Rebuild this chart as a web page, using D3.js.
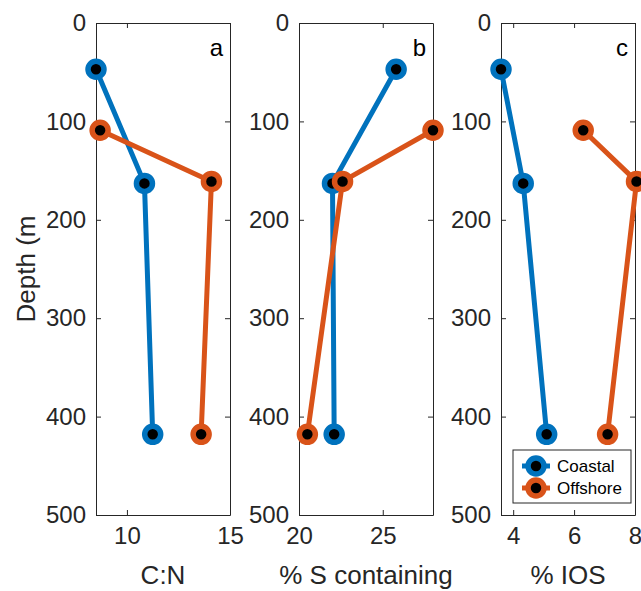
<!DOCTYPE html>
<html>
<head>
<meta charset="utf-8">
<script src="https://cdn.jsdelivr.net/npm/d3@7"></script>
<style>
  body { margin: 0; background: #fff; }
  svg { display: block; font-family: Arial, "Liberation Sans", sans-serif; }
  .ax path, .ax line { stroke: #262626; stroke-width: 1; }
  .ax text { fill: #262626; font-size: 24px; }
</style>
</head>
<body>
<svg id="chart" width="641" height="591"></svg>
<script>
// depths (m) for each station
const depthCoastal = [47, 163, 418];
const depthOffshore = [109, 161, 418];

// panel values
const cnCoastal = [8.5, 10.85, 11.25];
const cnOffshore = [8.7, 14.1, 13.6];
const sCoastal = [25.8, 22.0, 22.1];
const sOffshore = [28.0, 22.6, 20.5];
const iosCoastal = [3.6, 4.33, 5.1];
const iosOffshore = [6.3, 8.05, 7.1];

const depthTicks = [0, 100, 200, 300, 400, 500];
const seriesNames = ['Coastal', 'Offshore'];
const colors = ['#0072BD', '#D95319'];

const panels = [
  { letter: 'a', label: 'C:N', domain: [8.5, 15], ticks: [10, 15], coastal: cnCoastal, offshore: cnOffshore, x0: 96 },
  { letter: 'b', label: '% S containing', domain: [20, 28], ticks: [20, 25], coastal: sCoastal, offshore: sOffshore, x0: 299 },
  { letter: 'c', label: '% IOS', domain: [3.6, 8], ticks: [4, 6, 8], coastal: iosCoastal, offshore: iosOffshore, x0: 501 }
];

const svg = d3.select('#chart');
svg.append('rect').attr('width', 641).attr('height', 591).attr('fill', '#fff');

const W = 134, yTop = 23, yBot = 515;
const y = d3.scaleLinear().domain([0, 500]).range([yTop, yBot]);
const fmt = d3.format('d');

panels.forEach(p => {
  const x = d3.scaleLinear().domain(p.domain).range([p.x0, p.x0 + W]);
  const g = svg.append('g');

  // box + inward ticks on all four sides
  g.append('g').attr('class', 'ax').attr('transform', `translate(${p.x0},0)`)
    .call(d3.axisLeft(y).tickValues(depthTicks).tickFormat(fmt).tickSize(-5).tickPadding(10).tickSizeOuter(0));
  g.append('g').attr('class', 'ax').attr('transform', `translate(${p.x0 + W},0)`)
    .call(d3.axisRight(y).tickValues(depthTicks).tickSize(-5).tickSizeOuter(0).tickFormat(''));
  g.append('g').attr('class', 'ax').attr('transform', `translate(0,${yBot})`)
    .call(d3.axisBottom(x).tickValues(p.ticks).tickFormat(fmt).tickSize(-5).tickPadding(12).tickSizeOuter(0));
  g.append('g').attr('class', 'ax').attr('transform', `translate(0,${yTop})`)
    .call(d3.axisTop(x).tickValues(p.ticks).tickSize(-5).tickSizeOuter(0).tickFormat(''));

  g.selectAll('.ax .tick text').attr('font-size', 24);

  // x label
  g.append('text')
    .attr('x', p.x0 + W / 2).attr('y', 584)
    .attr('text-anchor', 'middle').attr('font-size', 26).attr('fill', '#262626')
    .text(p.label);

  // panel letter
  g.append('text')
    .attr('x', p.x0 + W - 7).attr('y', 56)
    .attr('text-anchor', 'end').attr('font-size', 24).attr('fill', '#000')
    .text(p.letter);

  const series = [
    { vals: p.coastal, depth: depthCoastal, color: colors[0] },
    { vals: p.offshore, depth: depthOffshore, color: colors[1] }
  ];
  const line = d3.line().x(d => x(d[0])).y(d => y(d[1]));
  series.forEach(s => {
    const pts = s.vals.map((v, i) => [v, s.depth[i]]);
    g.append('path').datum(pts).attr('d', line)
      .attr('fill', 'none').attr('stroke', s.color).attr('stroke-width', 5)
      .attr('stroke-linejoin', 'round');
    g.selectAll(null).data(pts).enter().append('circle')
      .attr('cx', d => x(d[0])).attr('cy', d => y(d[1])).attr('r', 8)
      .attr('fill', '#000').attr('stroke', s.color).attr('stroke-width', 5.5);
  });
});

// y label (cut off in the original)
svg.append('text')
  .attr('transform', `translate(35,${(yTop + yBot) / 2}) rotate(-90)`)
  .attr('text-anchor', 'middle').attr('font-size', 26).attr('fill', '#262626')
  .text('Depth (m');

// legend
const lg = svg.append('g').attr('transform', 'translate(513,450)');
lg.append('rect').attr('width', 118).attr('height', 53)
  .attr('fill', '#fff').attr('stroke', '#262626').attr('stroke-width', 1);
seriesNames.forEach((name, i) => {
  const cy = 16 + i * 22;
  lg.append('line').attr('x1', 9).attr('x2', 37).attr('y1', cy).attr('y2', cy)
    .attr('stroke', colors[i]).attr('stroke-width', 5);
  lg.append('circle').attr('cx', 23).attr('cy', cy).attr('r', 8)
    .attr('fill', '#000').attr('stroke', colors[i]).attr('stroke-width', 5.5);
  lg.append('text').attr('x', 44).attr('y', cy + 6).attr('font-size', 17).attr('fill', '#000')
    .text(name);
});
</script>
</body>
</html>
